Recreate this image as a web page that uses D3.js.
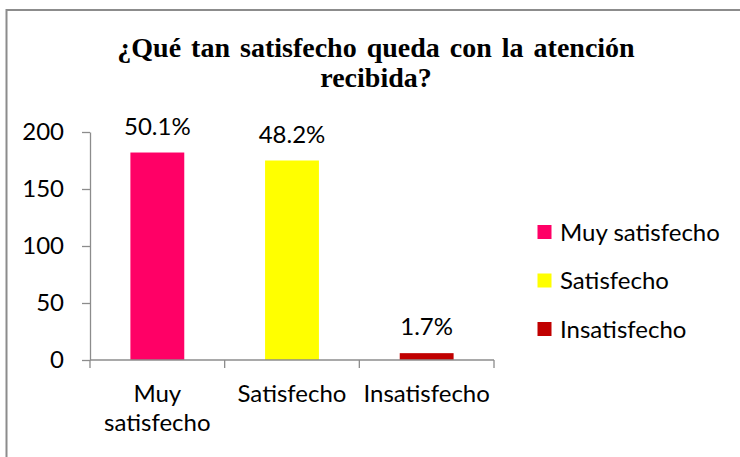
<!DOCTYPE html>
<html>
<head>
<meta charset="utf-8">
<script src="https://cdn.jsdelivr.net/npm/d3@7"></script>
<style>
  html, body { margin: 0; padding: 0; background: #fff; }
  svg { display: block; }
  .ttl { font-family: "Liberation Serif", "Times New Roman", Times, "Nimbus Roman", "DejaVu Serif", serif; }
</style>
</head>
<body>
<div id="chart"></div>
<script>
const title = ["¿Qué tan satisfecho queda con la atención", "recibida?"];
const categories = ["Muy satisfecho", "Satisfecho", "Insatisfecho"];
const categoryLines = [["Muy", "satisfecho"], ["Satisfecho"], ["Insatisfecho"]];
const values = [182, 175, 6];
const percentLabels = ["50.1%", "48.2%", "1.7%"];
const colors = ["#FF0066", "#FFFF00", "#C00000"];
const yTicks = [0, 50, 100, 150, 200];

const W = 740, H = 457;
const bodyFont = "Lato, Carlito, Calibri, sans-serif";
const fs = 24;
const svg = d3.select("#chart").append("svg").attr("width", W).attr("height", H);

// outer chart border
svg.append("rect").attr("x", 6.5).attr("y", 10).attr("width", 745).attr("height", 460)
  .attr("fill", "#fff").attr("stroke", "#8c8c8c").attr("stroke-width", 2);

// title
const t = svg.append("text").attr("class", "ttl").attr("text-anchor", "middle")
  .attr("font-weight", "bold").attr("font-size", 28).attr("word-spacing", 3).attr("fill", "#000");
title.forEach((s, i) => t.append("tspan").attr("x", 376).attr("y", 57 + i * 30).text(s));

const plot = { left: 90, right: 494, top: 132, bottom: 360 };
const y = d3.scaleLinear().domain([0, 200]).range([plot.bottom, plot.top]);
const x = d3.scaleBand().domain(categories).range([plot.left, plot.right])
  .paddingInner(0.6).paddingOuter(0.3);

const axisColor = "#8c8c8c";

// y axis
const yAxis = svg.append("g").attr("transform", `translate(${plot.left},0)`)
  .call(d3.axisLeft(y).tickValues(yTicks).tickSize(8).tickSizeOuter(0).tickPadding(18));
yAxis.select(".domain").attr("stroke", axisColor).attr("stroke-width", 1.3);
yAxis.selectAll(".tick line").attr("stroke", axisColor).attr("stroke-width", 1.3);
yAxis.selectAll(".tick text").attr("font-family", bodyFont).attr("font-size", fs).attr("fill", "#000");

// bars
svg.append("g").selectAll("rect").data(categories).join("rect")
  .attr("x", d => x(d)).attr("width", x.bandwidth())
  .attr("y", (d, i) => y(values[i]))
  .attr("height", (d, i) => y(0) - y(values[i]))
  .attr("fill", (d, i) => colors[i]);

// x axis line and category boundary ticks
const step = x.step();
svg.append("line").attr("x1", plot.left).attr("x2", plot.left + step * categories.length)
  .attr("y1", y(0)).attr("y2", y(0)).attr("stroke", axisColor).attr("stroke-width", 1.3);
svg.append("g").selectAll("line").data(d3.range(categories.length + 1)).join("line")
  .attr("x1", i => plot.left + i * step).attr("x2", i => plot.left + i * step)
  .attr("y1", y(0)).attr("y2", y(0) + 8)
  .attr("stroke", axisColor).attr("stroke-width", 1.3);

// data labels
svg.append("g").selectAll("text").data(categories).join("text")
  .attr("x", d => x(d) + x.bandwidth() / 2)
  .attr("y", (d, i) => y(values[i]) - 18)
  .attr("text-anchor", "middle").attr("font-family", bodyFont).attr("font-size", fs)
  .attr("fill", "#000").text((d, i) => percentLabels[i]);

// category labels
const xl = svg.append("g");
categories.forEach((c, i) => {
  const tx = xl.append("text").attr("text-anchor", "middle")
    .attr("font-family", bodyFont).attr("font-size", fs).attr("fill", "#000");
  categoryLines[i].forEach((s, j) => tx.append("tspan")
    .attr("x", x(c) + x.bandwidth() / 2).attr("y", 402 + j * 29).text(s));
});

// legend
const lg = svg.append("g");
categories.forEach((c, i) => {
  const yy = 225 + i * 48.5;
  lg.append("rect").attr("x", 537.5).attr("y", yy).attr("width", 14).attr("height", 14)
    .attr("fill", colors[i]);
  lg.append("text").attr("x", 560).attr("y", yy + 15.5)
    .attr("font-family", bodyFont).attr("font-size", fs).attr("fill", "#000").text(c);
});
</script>
</body>
</html>
